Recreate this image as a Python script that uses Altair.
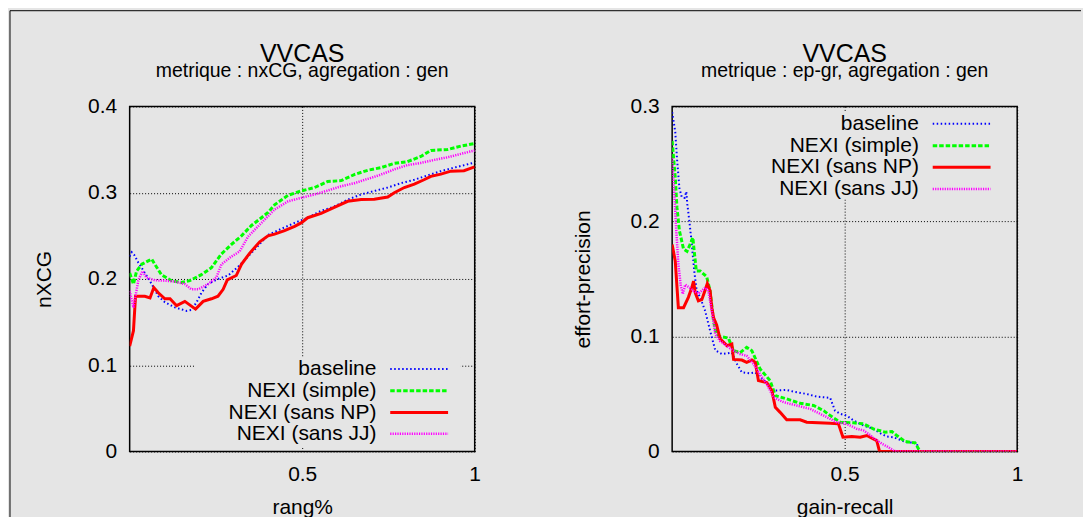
import altair as alt
import pandas as pd

FONT = "Liberation Sans"
BG = "#e5e5e5"

SERIES = ["baseline", "NEXI (simple)", "NEXI (sans NP)", "NEXI (sans JJ)"]
COLORS = ["#0000ff", "#00ff00", "#ff0000", "#ff00ff"]
DASHES = [[1.5, 2.5], [4.5, 2], None, [1.2, 1.2]]
WIDTHS = [2, 3, 3, 2.5]

TITLE = "VVCAS"
SUBTITLES = ["metrique : nxCG, agregation : gen", "metrique : ep-gr, agregation : gen"]

# ---------------- left panel : nxCG (rang% -> nXCG) ----------------
nx_base_x = [0.0, 0.006, 0.013, 0.025, 0.044, 0.064, 0.083, 0.102, 0.131, 0.165, 0.179, 0.194, 0.208,
             0.227, 0.256, 0.285, 0.314, 0.338, 0.362, 0.401, 0.439, 0.478, 0.516, 0.555, 0.593, 0.632,
             0.671, 0.709, 0.748, 0.786, 0.825, 0.863, 0.902, 0.940, 1.0]
nx_base_y = [0.226, 0.231, 0.228, 0.219, 0.207, 0.194, 0.180, 0.173, 0.167, 0.163, 0.164, 0.173, 0.184,
             0.194, 0.200, 0.204, 0.214, 0.224, 0.234, 0.251, 0.258, 0.265, 0.271, 0.279, 0.284, 0.292,
             0.298, 0.302, 0.306, 0.311, 0.315, 0.320, 0.325, 0.329, 0.335]

nx_simple_x = [0.0, 0.011, 0.020, 0.035, 0.064, 0.073, 0.092, 0.121, 0.150, 0.174, 0.208, 0.237, 0.266,
               0.295, 0.324, 0.353, 0.382, 0.401, 0.420, 0.459, 0.497, 0.536, 0.574, 0.613, 0.651, 0.690,
               0.728, 0.767, 0.805, 0.844, 0.873, 0.921, 0.960, 1.0]
nx_simple_y = [0.207, 0.194, 0.209, 0.217, 0.223, 0.217, 0.205, 0.198, 0.196, 0.198, 0.205, 0.213, 0.229,
               0.240, 0.250, 0.262, 0.271, 0.277, 0.286, 0.297, 0.302, 0.306, 0.313, 0.314, 0.321, 0.326,
               0.329, 0.334, 0.336, 0.342, 0.349, 0.350, 0.354, 0.357]

nx_sansnp_x = [0.0, 0.011, 0.017, 0.044, 0.059, 0.070, 0.083, 0.102, 0.117, 0.136, 0.160, 0.191, 0.213,
               0.237, 0.256, 0.271, 0.283, 0.309, 0.324, 0.348, 0.377, 0.401, 0.420, 0.449, 0.478, 0.497,
               0.516, 0.555, 0.593, 0.632, 0.671, 0.709, 0.748, 0.767, 0.796, 0.825, 0.853, 0.873, 0.902,
               0.931, 0.969, 1.0]
nx_sansnp_y = [0.122, 0.140, 0.180, 0.180, 0.178, 0.190, 0.184, 0.177, 0.177, 0.169, 0.174, 0.165, 0.174,
               0.177, 0.180, 0.188, 0.199, 0.204, 0.217, 0.230, 0.243, 0.250, 0.252, 0.256, 0.261, 0.265,
               0.271, 0.276, 0.283, 0.290, 0.292, 0.2925, 0.295, 0.300, 0.306, 0.310, 0.315, 0.319, 0.3215,
               0.325, 0.3255, 0.330]

nx_sansjj_x = [0.0, 0.011, 0.025, 0.037, 0.049, 0.073, 0.102, 0.131, 0.160, 0.179, 0.199, 0.227, 0.251,
               0.266, 0.295, 0.319, 0.343, 0.382, 0.420, 0.459, 0.497, 0.536, 0.574, 0.613, 0.651, 0.690,
               0.728, 0.767, 0.805, 0.844, 0.882, 0.921, 0.960, 1.0]
nx_sansjj_y = [0.186, 0.167, 0.198, 0.209, 0.2015, 0.1985, 0.198, 0.197, 0.194, 0.188, 0.188, 0.194, 0.2015,
               0.217, 0.226, 0.232, 0.249, 0.265, 0.2805, 0.290, 0.294, 0.298, 0.3025, 0.3075, 0.311, 0.316,
               0.321, 0.327, 0.332, 0.3345, 0.338, 0.341, 0.345, 0.349]

# ---------------- right panel : ep-gr (gain-recall -> effort-precision) ----------------
ep_base_x = [0.0, 0.009, 0.014, 0.021, 0.028, 0.036, 0.041, 0.044, 0.050, 0.057, 0.064, 0.071, 0.081,
             0.096, 0.110, 0.125, 0.144, 0.173, 0.188, 0.202, 0.226, 0.241, 0.255, 0.274, 0.294, 0.332,
             0.352, 0.390, 0.419, 0.458, 0.472, 0.487, 0.506, 0.526, 0.555, 0.583, 0.603, 0.622, 0.641,
             0.666, 0.680, 0.709, 0.714, 1.0]
ep_base_y = [0.295, 0.278, 0.255, 0.229, 0.221, 0.2205, 0.226, 0.215, 0.200, 0.180, 0.157, 0.140, 0.134,
             0.122, 0.105, 0.088, 0.0847, 0.086, 0.076, 0.0688, 0.068, 0.0688, 0.0644, 0.060, 0.0529,
             0.0535, 0.052, 0.050, 0.0477, 0.0466, 0.0355, 0.0327, 0.0312, 0.0269, 0.0225, 0.0197, 0.0159,
             0.013, 0.0124, 0.0095, 0.0081, 0.0075, 0.0, 0.0]

ep_simple_x = [0.0, 0.009, 0.014, 0.021, 0.033, 0.043, 0.052, 0.060, 0.064, 0.070, 0.081, 0.100, 0.110,
               0.120, 0.128, 0.139, 0.163, 0.178, 0.197, 0.216, 0.231, 0.255, 0.284, 0.299, 0.332, 0.371,
               0.410, 0.439, 0.458, 0.487, 0.526, 0.555, 0.583, 0.617, 0.637, 0.651, 0.675, 0.704, 0.714,
               0.719, 1.0]
ep_simple_y = [0.270, 0.238, 0.212, 0.192, 0.176, 0.174, 0.180, 0.186, 0.174, 0.157, 0.157, 0.152, 0.1396,
               0.1136, 0.102, 0.100, 0.0986, 0.0876, 0.086, 0.0905, 0.0876, 0.0717, 0.0616, 0.0486, 0.0457,
               0.0419, 0.040, 0.0355, 0.0312, 0.0254, 0.0249, 0.024, 0.0197, 0.0168, 0.0173, 0.0139,
               0.0087, 0.0075, 0.0023, 0.0, 0.0]

ep_sansnp_x = [0.0, 0.009, 0.018, 0.033, 0.047, 0.057, 0.062, 0.067, 0.076, 0.086, 0.093, 0.102, 0.110,
               0.115, 0.120, 0.129, 0.139, 0.159, 0.173, 0.178, 0.202, 0.216, 0.231, 0.241, 0.250, 0.274,
               0.289, 0.299, 0.313, 0.332, 0.371, 0.390, 0.458, 0.482, 0.495, 0.521, 0.545, 0.564, 0.583,
               0.593, 0.601, 1.0]
ep_sansnp_y = [0.180, 0.1656, 0.125, 0.125, 0.134, 0.1425, 0.148, 0.138, 0.131, 0.132, 0.138, 0.146, 0.1396,
               0.125, 0.1165, 0.110, 0.098, 0.092, 0.0934, 0.080, 0.0795, 0.0775, 0.0795, 0.0775, 0.0616,
               0.060, 0.0529, 0.0384, 0.034, 0.0275, 0.0275, 0.0254, 0.0246, 0.024, 0.0124, 0.013, 0.0124,
               0.0139, 0.011, 0.0095, 0.0, 0.0]

ep_sansjj_x = [0.0, 0.006, 0.011, 0.018, 0.025, 0.031, 0.038, 0.050, 0.062, 0.076, 0.096, 0.105, 0.115,
               0.125, 0.139, 0.158, 0.178, 0.197, 0.216, 0.236, 0.255, 0.274, 0.294, 0.323, 0.361, 0.400,
               0.439, 0.477, 0.506, 0.535, 0.555, 0.569, 0.583, 0.608, 0.627, 0.641, 0.650, 1.0]
ep_sansjj_y = [0.255, 0.226, 0.197, 0.163, 0.144, 0.137, 0.145, 0.1425, 0.1396, 0.137, 0.1425, 0.1396,
               0.122, 0.102, 0.096, 0.0919, 0.0876, 0.0847, 0.0832, 0.076, 0.067, 0.0587, 0.047, 0.0428,
               0.040, 0.037, 0.0312, 0.0254, 0.024, 0.0197, 0.0182, 0.0153, 0.0119, 0.0067, 0.0037,
               0.0009, 0.0, 0.0]

W = 346
H = 346


def line_props(i):
    props = dict(color=COLORS[i], strokeWidth=WIDTHS[i], clip=True, strokeCap="butt")
    if DASHES[i] is not None:
        props["strokeDash"] = DASHES[i]
    return props


def panel(xs, ys, xtitle, ytitle, ytop, yvals, subtitle, rows, box, ytitle_x, border=False):
    xenc = alt.X("x:Q", scale=alt.Scale(domain=[0, 1], nice=False),
                 axis=alt.Axis(values=[0.5, 1], labelFlush=False, labelPadding=12,
                               labelExpr="datum.value == 1 ? '1' : format(datum.value, '.1f')",
                               title=xtitle, titleX=W / 2, titleY=62, titleBaseline="alphabetic"))
    yenc = alt.Y("y:Q", scale=alt.Scale(domain=[0, ytop], nice=False),
                 axis=alt.Axis(values=yvals, labelPadding=13,
                               labelExpr="datum.value == 0 ? '0' : format(datum.value, '.1f')",
                               title=ytitle, titleX=ytitle_x, titleY=H / 2, titleBaseline="middle"))
    one = pd.DataFrame({"k": [0]})
    layers = [
        alt.Chart(one).mark_rect(color=BG).encode(
            x=alt.value(box[0]), x2=alt.value(box[1]), y=alt.value(box[2]), y2=alt.value(box[3]))
    ]
    for i, s in enumerate(SERIES):
        df = pd.DataFrame({"x": xs[i], "y": ys[i], "i": list(range(len(xs[i])))})
        layers.append(alt.Chart(df).mark_line(**line_props(i)).encode(x=xenc, y=yenc, order="i:Q"))
    for i, s in enumerate(SERIES):
        lab = pd.DataFrame({"label": [s]})
        layers.append(alt.Chart(lab).mark_text(align="right", baseline="middle", font=FONT, fontSize=21,
                                               color="black").encode(
            x=alt.value(247.4), y=alt.value(rows[i]), text="label:N"))
        rp = line_props(i)
        rp.pop("clip")
        layers.append(alt.Chart(one).mark_rule(**rp).encode(
            x=alt.value(261.3), x2=alt.value(319.3), y=alt.value(rows[i])))
    # titles
    tdf = pd.DataFrame({"t": [TITLE], "s": [subtitle]})
    layers.append(alt.Chart(tdf).mark_text(align="center", baseline="alphabetic", font=FONT, fontSize=25,
                                           color="black").encode(
        x=alt.value(W / 2), y=alt.value(-45), text="t:N"))
    layers.append(alt.Chart(tdf).mark_text(align="center", baseline="alphabetic", font=FONT, fontSize=19.5,
                                           color="black").encode(
        x=alt.value(W / 2), y=alt.value(-29.5), text="s:N"))
    if border:
        layers.append(alt.Chart(one).mark_rule(color="black", strokeWidth=1).encode(
            x=alt.value(-120), x2=alt.value(954), y=alt.value(-96)))
        layers.append(alt.Chart(one).mark_rule(color="black", strokeWidth=1).encode(
            x=alt.value(-120), y=alt.value(-96), y2=alt.value(412)))
    return alt.layer(*layers).properties(width=W, height=H)


left = panel([nx_base_x, nx_simple_x, nx_sansnp_x, nx_sansjj_x],
             [nx_base_y, nx_simple_y, nx_sansnp_y, nx_sansjj_y],
             "rang%", "nXCG", 0.4, [0, 0.1, 0.2, 0.3, 0.4], SUBTITLES[0],
             [263.3, 285.0, 307.0, 328.3], [65, 332, 252, 341], -85, border=True)

right = panel([ep_base_x, ep_simple_x, ep_sansnp_x, ep_sansjj_x],
              [ep_base_y, ep_simple_y, ep_sansnp_y, ep_sansjj_y],
              "gain-recall", "effort-precision", 0.3, [0, 0.1, 0.2, 0.3], SUBTITLES[1],
              [17.3, 39.3, 61.0, 82.7], [88, 331, 5, 93], -89)

chart = alt.hconcat(left, right, spacing=198, bounds="flush").properties(
    padding=0, background=BG
).configure_view(stroke="black", strokeWidth=1.5).configure_axis(
    labelFont=FONT, labelFontSize=21, labelColor="black", titleFont=FONT, titleFontSize=21,
    titleFontWeight="normal", titleColor="black", ticks=False, domain=False, grid=True,
    gridColor="black", gridDash=[1, 2], gridOpacity=1, gridWidth=1
)

chart.save("out.html", embed_options={"renderer": "svg", "actions": False})
